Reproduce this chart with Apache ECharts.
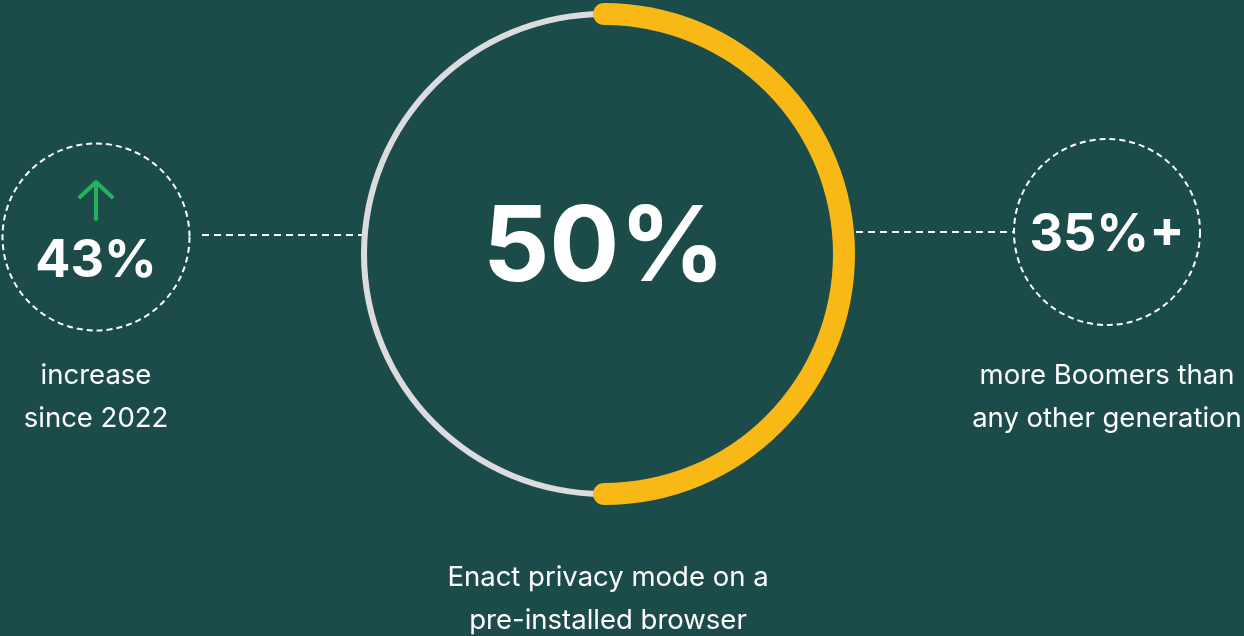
<!DOCTYPE html>
<html>
<head>
<meta charset="utf-8">
<script src="https://cdn.jsdelivr.net/npm/echarts@6/dist/echarts.min.js"></script>
<style>
  html, body { margin: 0; padding: 0; background: #1c4c4a; }
  #chart { width: 1244px; height: 636px; }
</style>
</head>
<body>
<div id="chart"></div>
<script>
// Headline share (percent) and its caption
const ringValue = [50];
const ringCaption = ['Enact privacy mode on a', 'pre-installed browser'];

// Side statistics
const statValues = [43, 35];
const statSuffixes = ['%', '%+'];
const statCaptions = [
  ['increase', 'since 2022'],
  ['more Boomers than', 'any other generation']
];
const statTrendUp = [true, false];

const BG = '#1c4c4a';
const WHITE = '#ffffff';
const TRACK = '#dcdce0';
const GOLD = '#f8b916';
const GREEN = '#22b35c';
const FONT = 'Inter, "Noto Sans", sans-serif';

const chart = echarts.init(document.getElementById('chart'), null, { renderer: 'canvas' });

// Layout of the three panels
const ring = { cx: 604, cy: 254, r: 240 };
const side = [
  { cx: 96, cy: 237, r: 93.5, textY: 261, capY: [376, 419], lineY: 235, lineX: [202, 362] },
  { cx: 1107, cy: 232, r: 93, textY: 235, capY: [376, 419], lineY: 232, lineX: [844, 1014] }
];

const hidden = { show: false };
function gaugeBase(radius) {
  return {
    type: 'gauge',
    center: [ring.cx, ring.cy],
    radius: radius,
    startAngle: 90,
    endAngle: -270,
    min: 0,
    max: 100,
    pointer: hidden,
    axisTick: hidden,
    splitLine: hidden,
    axisLabel: hidden,
    title: hidden,
    anchor: hidden
  };
}

const graphics = [];

side.forEach((s, i) => {
  // connector to the main ring
  graphics.push({
    type: 'line',
    shape: { x1: s.lineX[0], y1: s.lineY, x2: s.lineX[1], y2: s.lineY },
    style: { stroke: WHITE, lineWidth: 2, lineDash: [7, 5] },
    z: 1
  });
  // dashed outline
  graphics.push({
    type: 'circle',
    shape: { cx: s.cx, cy: s.cy, r: s.r },
    style: { fill: null, stroke: WHITE, lineWidth: 2, lineDash: [6, 4] },
    z: 2
  });
  // value
  graphics.push({
    type: 'text',
    x: s.cx,
    y: s.textY,
    style: {
      text: statValues[i] + statSuffixes[i],
      fill: WHITE,
      font: '700 52px ' + FONT,
      textAlign: 'center',
      textVerticalAlign: 'middle'
    },
    z: 3
  });
  // caption lines
  statCaptions[i].forEach((line, k) => {
    graphics.push({
      type: 'text',
      x: s.cx,
      y: s.capY[k],
      style: {
        text: line,
        fill: WHITE,
        font: '400 27.5px ' + FONT,
        textAlign: 'center',
        textVerticalAlign: 'middle'
      },
      z: 3
    });
  });
  // trend arrow
  if (statTrendUp[i]) {
    graphics.push({
      type: 'polyline',
      shape: { points: [[s.cx - 16, 197], [s.cx, 182], [s.cx + 16, 197]] },
      style: { stroke: GREEN, lineWidth: 4, lineCap: 'round', lineJoin: 'round', fill: null },
      z: 3
    });
    graphics.push({
      type: 'line',
      shape: { x1: s.cx, y1: 183, x2: s.cx, y2: 219 },
      style: { stroke: GREEN, lineWidth: 4, lineCap: 'round' },
      z: 3
    });
  }
});

// caption under the ring
ringCaption.forEach((line, k) => {
  graphics.push({
    type: 'text',
    x: 608,
    y: [578, 621][k],
    style: {
      text: line,
      fill: WHITE,
      font: '400 27.5px ' + FONT,
      textAlign: 'center',
      textVerticalAlign: 'middle'
    },
    z: 3
  });
});

chart.setOption({
  backgroundColor: BG,
  animation: false,
  graphic: graphics,
  series: [
    // full track
    Object.assign(gaugeBase(ring.r + 3), {
      z: 2,
      axisLine: { show: true, lineStyle: { width: 6, color: [[1, TRACK]] } },
      progress: { show: false },
      detail: { show: false },
      data: [{ value: 0 }]
    }),
    // share arc with its value
    Object.assign(gaugeBase(ring.r + 11), {
      z: 3,
      axisLine: { show: false },
      progress: { show: true, width: 22, roundCap: true, itemStyle: { color: GOLD } },
      detail: {
        show: true,
        offsetCenter: [0, -4],
        formatter: '{value}%',
        color: WHITE,
        fontSize: 104,
        fontWeight: 700,
        fontFamily: FONT,
        valueAnimation: false
      },
      data: [{ value: ringValue[0] }]
    })
  ]
});
</script>
</body>
</html>
